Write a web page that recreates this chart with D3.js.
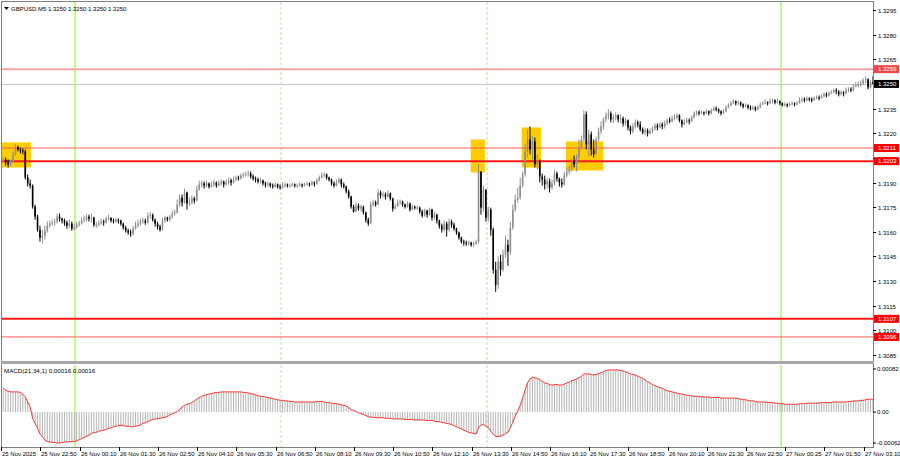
<!DOCTYPE html>
<html><head><meta charset="utf-8">
<script src="https://cdn.jsdelivr.net/npm/d3@7"></script>
<style>
html,body{margin:0;padding:0;background:#fff;}
svg{display:block;font-family:"Liberation Sans",Arial,sans-serif;}
</style></head>
<body><svg id="chart" width="900" height="460"></svg>
<script>
// ---------- DATA ----------
const symbolTitle = "GBPUSD,M5  1.3250 1.3250 1.3250 1.3250";
const macdTitle = "MACD(21,34,1) 0.00016 0.00016";
const firstOpen = 1.32034;
const closes = [1.32040,1.32022,1.32010,1.32028,1.32071,1.32113,1.32101,1.32095,1.32089,1.31930,
1.31894,1.31881,1.31753,1.31692,1.31613,1.31564,1.31576,1.31607,1.31637,1.31650,
1.31656,1.31662,1.31692,1.31680,1.31668,1.31656,1.31637,1.31650,1.31619,1.31625,
1.31643,1.31650,1.31668,1.31674,1.31692,1.31680,1.31686,1.31643,1.31643,1.31650,
1.31662,1.31656,1.31680,1.31686,1.31668,1.31662,1.31674,1.31668,1.31650,1.31625,
1.31607,1.31595,1.31589,1.31619,1.31637,1.31650,1.31662,1.31668,1.31656,1.31698,
1.31704,1.31674,1.31650,1.31631,1.31613,1.31668,1.31686,1.31674,1.31692,1.31711,
1.31717,1.31765,1.31808,1.31778,1.31839,1.31772,1.31778,1.31802,1.31790,1.31857,
1.31888,1.31894,1.31881,1.31894,1.31875,1.31888,1.31900,1.31881,1.31894,1.31906,
1.31888,1.31900,1.31912,1.31900,1.31918,1.31930,1.31924,1.31942,1.31949,1.31949,
1.31955,1.31936,1.31924,1.31918,1.31906,1.31912,1.31894,1.31888,1.31894,1.31881,
1.31875,1.31888,1.31875,1.31869,1.31881,1.31888,1.31881,1.31881,1.31888,1.31881,
1.31881,1.31888,1.31881,1.31888,1.31894,1.31888,1.31900,1.31894,1.31912,1.31930,
1.31942,1.31949,1.31930,1.31918,1.31894,1.31881,1.31900,1.31918,1.31888,1.31875,
1.31845,1.31814,1.31753,1.31723,1.31759,1.31741,1.31753,1.31717,1.31674,1.31650,
1.31765,1.31778,1.31765,1.31839,1.31820,1.31827,1.31814,1.31833,1.31802,1.31741,
1.31753,1.31778,1.31784,1.31765,1.31753,1.31772,1.31735,1.31753,1.31747,1.31747,
1.31723,1.31698,1.31729,1.31704,1.31735,1.31686,1.31704,1.31668,1.31637,1.31613,
1.31650,1.31613,1.31662,1.31643,1.31619,1.31595,1.31564,1.31540,1.31534,1.31528,
1.31534,1.31521,1.31528,1.31540,1.31967,1.31747,1.31857,1.31686,1.31735,1.31613,
1.31369,1.31277,1.31418,1.31369,1.31460,1.31521,1.31479,1.31625,1.31735,1.31796,
1.31808,1.31881,1.31949,1.32089,1.32162,1.32101,1.32150,1.32010,1.32028,1.31936,
1.31918,1.31888,1.31906,1.31869,1.31894,1.31955,1.31924,1.31900,1.31888,1.31942,
1.31967,1.31979,1.32028,1.32010,1.32052,1.32113,1.32162,1.32315,1.32132,1.32193,
1.32101,1.32071,1.32162,1.32211,1.32241,1.32284,1.32308,1.32321,1.32284,1.32296,
1.32308,1.32284,1.32290,1.32260,1.32278,1.32235,1.32211,1.32241,1.32266,1.32254,
1.32223,1.32205,1.32217,1.32199,1.32211,1.32229,1.32247,1.32235,1.32254,1.32241,
1.32260,1.32278,1.32272,1.32290,1.32296,1.32308,1.32278,1.32254,1.32266,1.32278,
1.32272,1.32296,1.32321,1.32327,1.32321,1.32327,1.32321,1.32333,1.32321,1.32339,
1.32351,1.32345,1.32333,1.32321,1.32333,1.32357,1.32369,1.32382,1.32394,1.32382,
1.32388,1.32376,1.32363,1.32369,1.32357,1.32351,1.32357,1.32345,1.32357,1.32376,
1.32382,1.32388,1.32382,1.32394,1.32400,1.32388,1.32394,1.32382,1.32369,1.32376,
1.32369,1.32376,1.32382,1.32376,1.32382,1.32400,1.32406,1.32400,1.32412,1.32406,
1.32400,1.32412,1.32418,1.32412,1.32424,1.32437,1.32430,1.32443,1.32449,1.32461,
1.32455,1.32437,1.32449,1.32443,1.32461,1.32467,1.32461,1.32485,1.32491,1.32498,
1.32504,1.32522,1.32528,1.32479,1.32510,1.32500];
const highs = [1.32058,1.32052,1.32040,1.32040,1.32089,1.32132,1.32125,1.32113,1.32107,1.32101,
1.31949,1.31918,1.31888,1.31765,1.31704,1.31637,1.31613,1.31637,1.31662,1.31668,
1.31674,1.31680,1.31711,1.31711,1.31686,1.31680,1.31668,1.31674,1.31662,1.31650,
1.31662,1.31668,1.31686,1.31698,1.31704,1.31704,1.31711,1.31692,1.31662,1.31668,
1.31680,1.31674,1.31692,1.31704,1.31686,1.31680,1.31686,1.31680,1.31674,1.31656,
1.31637,1.31619,1.31613,1.31637,1.31662,1.31674,1.31680,1.31686,1.31680,1.31717,
1.31723,1.31711,1.31680,1.31662,1.31643,1.31686,1.31698,1.31692,1.31704,1.31729,
1.31735,1.31796,1.31827,1.31827,1.31863,1.31845,1.31808,1.31820,1.31814,1.31881,
1.31912,1.31912,1.31906,1.31912,1.31900,1.31906,1.31918,1.31906,1.31912,1.31918,
1.31912,1.31918,1.31930,1.31924,1.31936,1.31942,1.31942,1.31955,1.31961,1.31967,
1.31973,1.31967,1.31949,1.31936,1.31930,1.31930,1.31918,1.31906,1.31906,1.31900,
1.31894,1.31900,1.31894,1.31888,1.31900,1.31900,1.31894,1.31894,1.31900,1.31894,
1.31894,1.31900,1.31894,1.31900,1.31906,1.31900,1.31912,1.31906,1.31924,1.31942,
1.31961,1.31961,1.31955,1.31936,1.31924,1.31906,1.31918,1.31930,1.31924,1.31900,
1.31881,1.31857,1.31820,1.31765,1.31778,1.31772,1.31765,1.31759,1.31723,1.31686,
1.31784,1.31796,1.31790,1.31857,1.31851,1.31845,1.31839,1.31851,1.31839,1.31808,
1.31772,1.31796,1.31796,1.31790,1.31772,1.31784,1.31778,1.31765,1.31759,1.31759,
1.31753,1.31735,1.31741,1.31735,1.31747,1.31741,1.31723,1.31711,1.31674,1.31650,
1.31668,1.31662,1.31680,1.31674,1.31656,1.31625,1.31601,1.31570,1.31552,1.31546,
1.31546,1.31540,1.31540,1.31552,1.32010,1.31888,1.31881,1.31765,1.31753,1.31747,
1.31625,1.31418,1.31454,1.31460,1.31491,1.31576,1.31552,1.31662,1.31765,1.31827,
1.31869,1.31930,1.31967,1.32132,1.32223,1.32241,1.32186,1.32174,1.32071,1.32040,
1.31955,1.31942,1.31930,1.31924,1.31918,1.31979,1.31967,1.31930,1.31924,1.31967,
1.31991,1.32003,1.32046,1.32064,1.32071,1.32162,1.32186,1.32339,1.32333,1.32223,
1.32211,1.32162,1.32180,1.32235,1.32272,1.32296,1.32327,1.32345,1.32333,1.32315,
1.32327,1.32315,1.32315,1.32302,1.32296,1.32284,1.32247,1.32260,1.32284,1.32278,
1.32272,1.32235,1.32235,1.32229,1.32229,1.32241,1.32260,1.32260,1.32266,1.32266,
1.32278,1.32290,1.32296,1.32308,1.32315,1.32321,1.32315,1.32284,1.32284,1.32296,
1.32290,1.32308,1.32333,1.32339,1.32339,1.32339,1.32333,1.32345,1.32339,1.32351,
1.32363,1.32363,1.32351,1.32339,1.32345,1.32369,1.32382,1.32394,1.32406,1.32400,
1.32400,1.32394,1.32382,1.32382,1.32376,1.32369,1.32369,1.32363,1.32369,1.32388,
1.32394,1.32406,1.32394,1.32412,1.32412,1.32406,1.32412,1.32400,1.32388,1.32388,
1.32382,1.32388,1.32394,1.32388,1.32394,1.32418,1.32418,1.32418,1.32424,1.32418,
1.32418,1.32424,1.32430,1.32430,1.32437,1.32449,1.32449,1.32455,1.32461,1.32473,
1.32473,1.32461,1.32461,1.32455,1.32479,1.32479,1.32479,1.32498,1.32510,1.32516,
1.32522,1.32534,1.32546,1.32534,1.32522,1.32546];
const lows = [1.32022,1.32003,1.31991,1.31997,1.32022,1.32064,1.32089,1.32077,1.32071,1.31918,
1.31875,1.31863,1.31741,1.31674,1.31601,1.31540,1.31528,1.31552,1.31595,1.31625,
1.31637,1.31637,1.31650,1.31662,1.31650,1.31637,1.31619,1.31625,1.31607,1.31607,
1.31619,1.31631,1.31643,1.31656,1.31662,1.31662,1.31656,1.31631,1.31625,1.31631,
1.31643,1.31637,1.31650,1.31668,1.31656,1.31650,1.31656,1.31650,1.31637,1.31613,
1.31595,1.31582,1.31570,1.31576,1.31613,1.31625,1.31637,1.31650,1.31643,1.31650,
1.31680,1.31662,1.31631,1.31613,1.31601,1.31607,1.31656,1.31662,1.31662,1.31680,
1.31698,1.31711,1.31753,1.31753,1.31772,1.31735,1.31759,1.31765,1.31772,1.31784,
1.31851,1.31869,1.31863,1.31869,1.31863,1.31869,1.31875,1.31869,1.31875,1.31881,
1.31869,1.31881,1.31888,1.31881,1.31894,1.31906,1.31912,1.31918,1.31930,1.31936,
1.31936,1.31924,1.31912,1.31900,1.31894,1.31894,1.31881,1.31869,1.31875,1.31869,
1.31863,1.31869,1.31863,1.31857,1.31863,1.31869,1.31869,1.31869,1.31875,1.31869,
1.31869,1.31875,1.31869,1.31875,1.31881,1.31875,1.31881,1.31875,1.31888,1.31906,
1.31924,1.31930,1.31918,1.31906,1.31881,1.31869,1.31875,1.31894,1.31869,1.31863,
1.31833,1.31802,1.31741,1.31717,1.31723,1.31729,1.31723,1.31704,1.31656,1.31637,
1.31650,1.31753,1.31753,1.31765,1.31802,1.31808,1.31796,1.31808,1.31790,1.31723,
1.31735,1.31753,1.31765,1.31753,1.31741,1.31747,1.31723,1.31729,1.31735,1.31735,
1.31711,1.31686,1.31692,1.31686,1.31698,1.31668,1.31674,1.31650,1.31619,1.31595,
1.31601,1.31570,1.31601,1.31625,1.31607,1.31582,1.31552,1.31528,1.31515,1.31515,
1.31515,1.31509,1.31509,1.31521,1.31528,1.31704,1.31723,1.31662,1.31662,1.31576,
1.31345,1.31235,1.31253,1.31332,1.31357,1.31442,1.31393,1.31460,1.31613,1.31723,
1.31778,1.31796,1.31869,1.31936,1.32052,1.32071,1.32040,1.31991,1.31979,1.31900,
1.31881,1.31857,1.31863,1.31839,1.31857,1.31881,1.31906,1.31875,1.31869,1.31881,
1.31930,1.31949,1.31967,1.31991,1.31967,1.32040,1.32101,1.32150,1.32101,1.32058,
1.32064,1.32052,1.32089,1.32150,1.32193,1.32223,1.32266,1.32284,1.32266,1.32260,
1.32278,1.32266,1.32260,1.32241,1.32247,1.32217,1.32193,1.32199,1.32229,1.32235,
1.32211,1.32193,1.32186,1.32180,1.32193,1.32199,1.32217,1.32217,1.32229,1.32223,
1.32229,1.32247,1.32260,1.32266,1.32278,1.32284,1.32266,1.32235,1.32247,1.32260,
1.32254,1.32266,1.32290,1.32308,1.32308,1.32315,1.32308,1.32315,1.32308,1.32315,
1.32333,1.32333,1.32321,1.32308,1.32315,1.32327,1.32351,1.32363,1.32376,1.32369,
1.32369,1.32363,1.32351,1.32357,1.32345,1.32339,1.32339,1.32333,1.32339,1.32351,
1.32369,1.32376,1.32369,1.32382,1.32382,1.32376,1.32382,1.32369,1.32363,1.32363,
1.32357,1.32363,1.32369,1.32363,1.32369,1.32382,1.32388,1.32388,1.32394,1.32394,
1.32388,1.32400,1.32406,1.32400,1.32412,1.32418,1.32418,1.32424,1.32437,1.32443,
1.32437,1.32424,1.32430,1.32424,1.32437,1.32449,1.32449,1.32455,1.32479,1.32479,
1.32485,1.32491,1.32504,1.32467,1.32473,1.32498];
const macd = [0.00043,0.00039,0.00037,0.00036,0.00036,0.00036,0.00036,0.00035,0.00032,0.00027,
0.00018,0.00009,-0.00011,-0.00020,-0.00028,-0.00039,-0.00044,-0.00050,-0.00052,-0.00053,
-0.00054,-0.00054,-0.00055,-0.00055,-0.00054,-0.00053,-0.00053,-0.00053,-0.00052,-0.00052,
-0.00051,-0.00049,-0.00047,-0.00045,-0.00043,-0.00041,-0.00038,-0.00036,-0.00036,-0.00034,
-0.00033,-0.00032,-0.00031,-0.00029,-0.00028,-0.00026,-0.00025,-0.00024,-0.00023,-0.00024,
-0.00025,-0.00025,-0.00026,-0.00026,-0.00025,-0.00024,-0.00023,-0.00020,-0.00019,-0.00017,
-0.00015,-0.00013,-0.00012,-0.00012,-0.00011,-0.00010,-0.00009,-0.00008,-0.00005,-0.00003,
-0.00001,0.00001,0.00005,0.00009,0.00012,0.00014,0.00015,0.00017,0.00020,0.00023,
0.00026,0.00028,0.00030,0.00031,0.00032,0.00033,0.00034,0.00035,0.00035,0.00036,
0.00036,0.00036,0.00036,0.00036,0.00036,0.00036,0.00036,0.00036,0.00035,0.00035,
0.00034,0.00033,0.00032,0.00031,0.00029,0.00028,0.00028,0.00027,0.00026,0.00025,
0.00024,0.00023,0.00022,0.00021,0.00021,0.00020,0.00020,0.00019,0.00019,0.00018,
0.00018,0.00018,0.00018,0.00018,0.00018,0.00018,0.00018,0.00018,0.00019,0.00019,
0.00019,0.00018,0.00017,0.00017,0.00016,0.00015,0.00015,0.00014,0.00013,0.00012,
0.00011,0.00008,0.00005,0.00003,0.00001,-0.00001,-0.00003,-0.00004,-0.00006,-0.00008,
-0.00009,-0.00009,-0.00010,-0.00010,-0.00010,-0.00010,-0.00011,-0.00011,-0.00011,-0.00012,
-0.00012,-0.00012,-0.00012,-0.00012,-0.00013,-0.00013,-0.00013,-0.00013,-0.00014,-0.00014,
-0.00014,-0.00014,-0.00014,-0.00015,-0.00015,-0.00015,-0.00016,-0.00017,-0.00017,-0.00018,
-0.00019,-0.00020,-0.00021,-0.00022,-0.00024,-0.00026,-0.00028,-0.00030,-0.00032,-0.00034,
-0.00036,-0.00037,-0.00038,-0.00039,-0.00028,-0.00023,-0.00022,-0.00025,-0.00028,-0.00034,
-0.00039,-0.00043,-0.00043,-0.00043,-0.00041,-0.00038,-0.00036,-0.00028,-0.00018,-0.00007,
0.00002,0.00012,0.00025,0.00039,0.00052,0.00059,0.00062,0.00061,0.00060,0.00058,
0.00055,0.00052,0.00051,0.00049,0.00048,0.00049,0.00049,0.00048,0.00048,0.00050,
0.00052,0.00053,0.00056,0.00057,0.00059,0.00061,0.00064,0.00068,0.00068,0.00068,
0.00067,0.00066,0.00067,0.00068,0.00070,0.00072,0.00074,0.00075,0.00075,0.00075,
0.00075,0.00075,0.00074,0.00073,0.00072,0.00070,0.00068,0.00067,0.00066,0.00064,
0.00062,0.00060,0.00057,0.00054,0.00052,0.00049,0.00047,0.00045,0.00044,0.00042,
0.00040,0.00038,0.00037,0.00036,0.00035,0.00034,0.00033,0.00032,0.00031,0.00030,
0.00030,0.00029,0.00028,0.00028,0.00028,0.00027,0.00027,0.00027,0.00027,0.00026,
0.00026,0.00026,0.00026,0.00025,0.00025,0.00025,0.00025,0.00025,0.00025,0.00025,
0.00024,0.00023,0.00022,0.00022,0.00021,0.00020,0.00020,0.00019,0.00018,0.00018,
0.00018,0.00018,0.00017,0.00017,0.00017,0.00016,0.00016,0.00015,0.00015,0.00014,
0.00014,0.00014,0.00014,0.00014,0.00014,0.00015,0.00015,0.00015,0.00016,0.00016,
0.00016,0.00016,0.00016,0.00016,0.00017,0.00017,0.00017,0.00017,0.00017,0.00018,
0.00018,0.00018,0.00018,0.00018,0.00018,0.00019,0.00019,0.00020,0.00020,0.00020,
0.00021,0.00021,0.00022,0.00023,0.00023,0.00023];
const timeLabels = ["25 Nov 2025","25 Nov 22:50","26 Nov 00:10","26 Nov 01:30","26 Nov 02:50","26 Nov 04:10",
"26 Nov 05:30","26 Nov 06:50","26 Nov 08:10","26 Nov 09:30","26 Nov 10:50","26 Nov 12:10","26 Nov 13:30",
"26 Nov 14:50","26 Nov 16:10","26 Nov 17:30","26 Nov 18:50","26 Nov 20:10","26 Nov 21:30","26 Nov 22:50",
"27 Nov 00:25","27 Nov 01:50","27 Nov 03:10"];
const timeLabelStep = 16;
const priceTicks = [1.3295,1.3280,1.3265,1.3235,1.3220,1.3205,1.3190,1.3175,1.3160,1.3145,1.3130,1.3115,1.3100,1.3085];
const currentPrice = 1.3250;
const levelPrices = [1.3259,1.3211,1.3203,1.3107,1.3096];
const levelLabels = ["1.3259","1.3211","1.3203","1.3107","1.3096"];
const boxStart = [-0.5,190.8,211.6,229.7];
const boxEnd = [11.3,196.6,219.5,244.8];
const boxTop = [1.32144,1.32162,1.32235,1.32150];
const boxBottom = [1.31991,1.31961,1.31991,1.31973];
const dayLines = [29.3,317.5];
const sessionLines = [113.4,197.5];
const macdTicks = [0.00082,0.00,-0.00062];
const macdTickLabels = ["0.00082","0.00","-0.00062"];

// ---------- RENDER ----------
const svg = d3.select("#chart");
const W = 900, H = 460;
const plotL = 2, plotR = 873;
const mainTop = 2, mainBot = 361;
const subTop = 365, subBot = 447;
const n = closes.length;
const FS = 6;

const x = d3.scaleLinear().domain([-0.5, n - 0.5]).range([plotL, plotL + 2.45 * n]);
const y = d3.scaleLinear().domain([1.3085, 1.3295]).range([355, 10]);
const ym = d3.scaleLinear().domain([-0.00062, 0.00082]).range([subBot, subTop + 1]);

svg.append("rect").attr("width", W).attr("height", H).attr("fill", "#fff");

const defs = svg.append("defs");
defs.append("clipPath").attr("id", "cmain").append("rect")
  .attr("x", plotL).attr("y", mainTop).attr("width", plotR - plotL).attr("height", mainBot - mainTop);
defs.append("clipPath").attr("id", "csub").append("rect")
  .attr("x", plotL).attr("y", subTop).attr("width", plotR - plotL).attr("height", subBot - subTop);

const gMain = svg.append("g").attr("clip-path", "url(#cmain)");
const gSub = svg.append("g").attr("clip-path", "url(#csub)");

// yellow boxes
gMain.selectAll("rect.box").data(boxStart).enter().append("rect")
  .attr("x", (d, i) => x(boxStart[i]))
  .attr("width", (d, i) => x(boxEnd[i]) - x(boxStart[i]))
  .attr("y", (d, i) => y(boxTop[i]))
  .attr("height", (d, i) => y(boxBottom[i]) - y(boxTop[i]))
  .attr("fill", "#ffcc00");

// vertical lines
function vlines(g, top, bot) {
  dayLines.forEach(v => g.append("line").attr("x1", x(v)).attr("x2", x(v)).attr("y1", top).attr("y2", bot)
    .attr("stroke", "#7cfc00").attr("stroke-width", 1));
  sessionLines.forEach(v => g.append("line").attr("x1", x(v)).attr("x2", x(v)).attr("y1", top).attr("y2", bot)
    .attr("stroke", "#b5e8a0").attr("stroke-width", 1).attr("stroke-dasharray", "3,2"));
}
vlines(gMain, mainTop, mainBot);
vlines(gSub, subTop, subBot);

// current price line
gMain.append("line").attr("x1", plotL).attr("x2", plotR).attr("y1", Math.round(y(currentPrice)) + 0.5)
  .attr("y2", Math.round(y(currentPrice)) + 0.5).attr("stroke", "#c8c8c8").attr("stroke-width", 1);

// level lines
const levelColor = ["#f7a6a6", "#ff5a5a", "#ff1a1a", "#ff1a1a", "#ff5a5a"];
const levelWidth = [2, 1, 2, 2, 1];
levelPrices.forEach((p, i) => {
  gMain.append("line").attr("x1", plotL).attr("x2", plotR).attr("y1", y(p)).attr("y2", y(p))
    .attr("stroke", levelColor[i]).attr("stroke-width", levelWidth[i]);
});

// candles
const opens = closes.map((c, i) => i === 0 ? firstOpen : closes[i - 1]);
const bw = 1.6;
const cg = gMain.append("g");
closes.forEach((c, i) => {
  const o = opens[i];
  const up = c >= o;
  const col = up ? "#8f8f8f" : "#000";
  const hi = Math.max(highs[i], o, c), lo = Math.min(lows[i], o, c);
  const cx = x(i);
  cg.append("line").attr("x1", cx).attr("x2", cx).attr("y1", y(hi)).attr("y2", y(lo))
    .attr("stroke", col).attr("stroke-width", 1);
  const top = y(Math.max(o, c)), bot = y(Math.min(o, c));
  cg.append("rect").attr("x", cx - bw / 2).attr("width", bw)
    .attr("y", top).attr("height", Math.max(1, bot - top)).attr("fill", col);
});

// MACD histogram and line
gSub.selectAll("line.h").data(macd).enter().append("line")
  .attr("x1", (d, i) => x(i)).attr("x2", (d, i) => x(i))
  .attr("y1", ym(0)).attr("y2", d => ym(d))
  .attr("stroke", "#b4b4b4").attr("stroke-width", 1);
gSub.append("path").datum(macd)
  .attr("d", d3.line().x((d, i) => x(i)).y(d => ym(d)))
  .attr("fill", "none").attr("stroke", "#ff3333").attr("stroke-width", 1);

// frames
const frame = svg.append("g").attr("fill", "none").attr("stroke", "#808080");
frame.append("line").attr("x1", 1.5).attr("x2", 1.5).attr("y1", 1).attr("y2", subBot);
frame.append("line").attr("x1", plotR + 0.5).attr("x2", plotR + 0.5).attr("y1", 1).attr("y2", subBot);
frame.append("line").attr("x1", 1).attr("x2", plotR + 1).attr("y1", 1.5).attr("y2", 1.5);
frame.append("line").attr("x1", 1).attr("x2", plotR + 1).attr("y1", subBot + 0.5).attr("y2", subBot + 0.5);
svg.append("rect").attr("x", 1).attr("y", mainBot).attr("width", plotR).attr("height", 3).attr("fill", "#a8a8a8");

// right price axis
const axisG = svg.append("g").attr("font-size", FS).attr("fill", "#000");
priceTicks.forEach(p => {
  const yy = Math.round(y(p)) + 0.5;
  axisG.append("line").attr("x1", plotR).attr("x2", plotR + 3).attr("y1", yy).attr("y2", yy).attr("stroke", "#000");
  axisG.append("text").attr("x", plotR + 5).attr("y", yy + 2.1).text(p.toFixed(4));
});
// level labels
levelPrices.forEach((p, i) => {
  const yy = y(p);
  axisG.append("rect").attr("x", plotR + 1).attr("y", yy - 4).attr("width", 25).attr("height", 8)
    .attr("fill", i === 0 ? "#f04848" : "#ff0000");
  axisG.append("text").attr("x", plotR + 5).attr("y", yy + 2.1).attr("fill", "#fff").text(levelLabels[i]);
});
// current price label
{
  const yy = y(currentPrice);
  axisG.append("rect").attr("x", plotR + 1).attr("y", yy - 4).attr("width", 25).attr("height", 8).attr("fill", "#000");
  axisG.append("text").attr("x", plotR + 5).attr("y", yy + 2.1).attr("fill", "#fff").text(currentPrice.toFixed(4));
}
// MACD axis
macdTicks.forEach((v, i) => {
  const yy = i === 0 ? subTop + 4 : (i === 2 ? subBot - 4 : ym(v));
  axisG.append("line").attr("x1", plotR).attr("x2", plotR + 3).attr("y1", yy).attr("y2", yy).attr("stroke", "#000");
  axisG.append("text").attr("x", plotR + 4).attr("y", yy + 2.1).text(macdTickLabels[i]);
});

// time axis
const tG = svg.append("g").attr("font-size", FS).attr("fill", "#000");
timeLabels.forEach((t, k) => {
  const xx = Math.round(x(k * timeLabelStep)) - 1.5;
  tG.append("line").attr("x1", xx).attr("x2", xx).attr("y1", subBot).attr("y2", subBot + 4).attr("stroke", "#000");
  tG.append("text").attr("x", xx + 0.5).attr("y", subBot + 9).text(t);
});

// titles
svg.append("path").attr("d", "M4,7 L9,7 L6.5,10 Z").attr("fill", "#000");
svg.append("text").attr("x", 11).attr("y", 11).attr("font-size", FS).attr("fill", "#000").text(symbolTitle);
svg.append("text").attr("x", 4).attr("y", 373).attr("font-size", 6.2).attr("fill", "#000").text(macdTitle);
</script></body></html>
